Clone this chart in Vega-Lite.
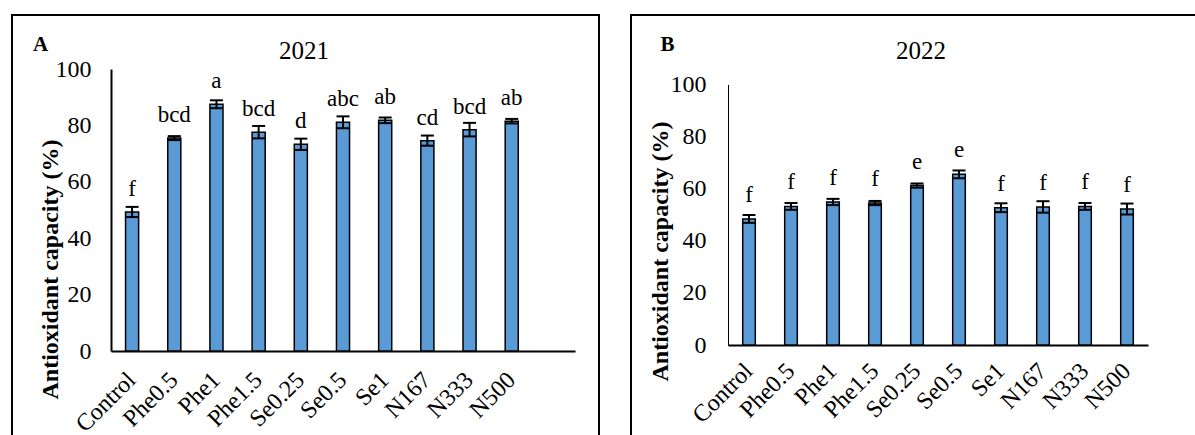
{
  "$schema": "https://vega.github.io/schema/vega-lite/v6.json",
  "padding": {"left": 11, "top": 14, "right": 0, "bottom": 0},
  "spacing": 30,
  "background": "white",
  "config": {
    "view": {"stroke": "#000", "strokeWidth": 2},
    "font": "Liberation Serif",
    "axis": {"labelFont": "Liberation Serif", "titleFont": "Liberation Serif", "labelColor": "#000", "titleColor": "#000", "domainColor": "#000", "grid": false, "ticks": false, "tickSize": 0}
  },
  "datasets": {
    "y2021": [
      {"treatment": "Control", "value": 49.3, "lo": 47.5, "hi": 51.1, "letter": "f"},
      {"treatment": "Phe0.5", "value": 75.5, "lo": 74.8, "hi": 76.2, "letter": "bcd"},
      {"treatment": "Phe1", "value": 87.5, "lo": 86.1, "hi": 88.9, "letter": "a"},
      {"treatment": "Phe1.5", "value": 77.6, "lo": 75.4, "hi": 79.8, "letter": "bcd"},
      {"treatment": "Se0.25", "value": 73.3, "lo": 71.3, "hi": 75.3, "letter": "d"},
      {"treatment": "Se0.5", "value": 81.1, "lo": 79.0, "hi": 83.2, "letter": "abc"},
      {"treatment": "Se1", "value": 81.8, "lo": 80.8, "hi": 82.8, "letter": "ab"},
      {"treatment": "N167", "value": 74.6, "lo": 72.8, "hi": 76.4, "letter": "cd"},
      {"treatment": "N333", "value": 78.5, "lo": 76.1, "hi": 80.9, "letter": "bcd"},
      {"treatment": "N500", "value": 81.5, "lo": 80.7, "hi": 82.3, "letter": "ab"}
    ],
    "y2022": [
      {"treatment": "Control", "value": 48.4, "lo": 46.9, "hi": 49.9, "letter": "f"},
      {"treatment": "Phe0.5", "value": 53.2, "lo": 51.9, "hi": 54.5, "letter": "f"},
      {"treatment": "Phe1", "value": 54.9, "lo": 53.7, "hi": 56.1, "letter": "f"},
      {"treatment": "Phe1.5", "value": 54.5, "lo": 53.7, "hi": 55.3, "letter": "f"},
      {"treatment": "Se0.25", "value": 61.2, "lo": 60.4, "hi": 62.0, "letter": "e"},
      {"treatment": "Se0.5", "value": 65.5, "lo": 64.0, "hi": 67.0, "letter": "e"},
      {"treatment": "Se1", "value": 52.7, "lo": 51.0, "hi": 54.4, "letter": "f"},
      {"treatment": "N167", "value": 53.0, "lo": 50.8, "hi": 55.2, "letter": "f"},
      {"treatment": "N333", "value": 53.2, "lo": 51.9, "hi": 54.5, "letter": "f"},
      {"treatment": "N500", "value": 52.2, "lo": 50.1, "hi": 54.3, "letter": "f"}
    ]
  },
  "hconcat": [
    {
      "width": 587,
      "height": 430,
      "data": {"name": "y2021"},
      "title": {"text": "2021", "offset": -69, "baseline": "alphabetic", "fontSize": 25, "fontWeight": "normal", "font": "Liberation Serif", "frame": "group", "anchor": "middle", "dx": -1.5, "color": "#000"},
      "encoding": {
        "x": {
          "field": "treatment", "type": "nominal",
          "scale": {"domain": ["Control", "Phe0.5", "Phe1", "Phe1.5", "Se0.25", "Se0.5", "Se1", "N167", "N333", "N500", " "], "range": [99, 563], "paddingInner": 0.69, "paddingOuter": 0.345},
          "axis": {"title": "A", "titleX": 28, "titleY": -306.5, "titleFontSize": 21, "titleFontWeight": "bold", "titleBaseline": "middle", "titleAlign": "center", "titleAngle": 0, "offset": -94, "labelAngle": -45, "labelAlign": "right", "labelBaseline": "middle", "labelPadding": 25, "labelFontSize": 24, "domainWidth": 2, "labelOverlap": false}
        }
      },
      "layer": [
        {
          "mark": {"type": "bar", "fill": "#5B9BD5", "stroke": "#000", "strokeWidth": 1.5},
          "encoding": {
            "y": {"field": "value", "type": "quantitative", "title": "Antioxidant capacity (%)",
              "scale": {"domain": [0, 100], "range": [336, 54], "nice": false},
              "axis": {"titleX": -61, "titleY": 254, "titleAngle": -90, "titleAlign": "center", "titleBaseline": "middle", "titleFontSize": 24, "titleFontWeight": "bold", "offset": -99, "values": [0, 20, 40, 60, 80, 100], "labelPadding": 20, "labelFontSize": 24, "domainWidth": 2}}
          }
        },
        {
          "mark": {"type": "rule", "strokeWidth": 2, "color": "#000"},
          "encoding": {"y": {"field": "lo", "type": "quantitative", "title": "Antioxidant capacity (%)"}, "y2": {"field": "hi"}}
        },
        {
          "mark": {"type": "tick", "thickness": 2, "size": 13, "color": "#000", "opacity": 1},
          "encoding": {"y": {"field": "lo", "type": "quantitative", "title": "Antioxidant capacity (%)"}}
        },
        {
          "mark": {"type": "tick", "thickness": 2, "size": 13, "color": "#000", "opacity": 1},
          "encoding": {"y": {"field": "hi", "type": "quantitative", "title": "Antioxidant capacity (%)"}}
        },
        {
          "mark": {"type": "text", "baseline": "alphabetic", "dy": -16, "fontSize": 23, "font": "Liberation Serif", "color": "#000"},
          "encoding": {"y": {"field": "value", "type": "quantitative", "title": "Antioxidant capacity (%)"}, "text": {"field": "letter"}}
        }
      ]
    },
    {
      "width": 575,
      "height": 430,
      "data": {"name": "y2022"},
      "title": {"text": "2022", "offset": -69, "baseline": "alphabetic", "fontSize": 25, "fontWeight": "normal", "font": "Liberation Serif", "frame": "group", "anchor": "middle", "dx": 2.5, "color": "#000"},
      "encoding": {
        "x": {
          "field": "treatment", "type": "nominal",
          "scale": {"domain": ["Control", "Phe0.5", "Phe1", "Phe1.5", "Se0.25", "Se0.5", "Se1", "N167", "N333", "N500"], "range": [97, 517], "paddingInner": 0.7, "paddingOuter": 0.35},
          "axis": {"title": "B", "titleX": 36, "titleY": -300.5, "titleFontSize": 21, "titleFontWeight": "bold", "titleBaseline": "middle", "titleAlign": "center", "titleAngle": 0, "offset": -100, "labelAngle": -45, "labelAlign": "right", "labelBaseline": "middle", "labelPadding": 22, "labelFontSize": 24, "domainWidth": 2, "labelOverlap": false}
        }
      },
      "layer": [
        {
          "mark": {"type": "bar", "fill": "#5B9BD5", "stroke": "#000", "strokeWidth": 1.5},
          "encoding": {
            "y": {"field": "value", "type": "quantitative", "title": "Antioxidant capacity (%)",
              "scale": {"domain": [0, 100], "range": [330, 69.5], "nice": false},
              "axis": {"titleX": -68, "titleY": 236, "titleAngle": -90, "titleAlign": "center", "titleBaseline": "middle", "titleFontSize": 24, "titleFontWeight": "bold", "offset": -97, "values": [0, 20, 40, 60, 80, 100], "labelPadding": 22, "labelFontSize": 24, "domainWidth": 1}}
          }
        },
        {
          "mark": {"type": "rule", "strokeWidth": 2, "color": "#000"},
          "encoding": {"y": {"field": "lo", "type": "quantitative", "title": "Antioxidant capacity (%)"}, "y2": {"field": "hi"}}
        },
        {
          "mark": {"type": "tick", "thickness": 2, "size": 13, "color": "#000", "opacity": 1},
          "encoding": {"y": {"field": "lo", "type": "quantitative", "title": "Antioxidant capacity (%)"}}
        },
        {
          "mark": {"type": "tick", "thickness": 2, "size": 13, "color": "#000", "opacity": 1},
          "encoding": {"y": {"field": "hi", "type": "quantitative", "title": "Antioxidant capacity (%)"}}
        },
        {
          "mark": {"type": "text", "baseline": "alphabetic", "dy": -17, "fontSize": 23, "font": "Liberation Serif", "color": "#000"},
          "encoding": {"y": {"field": "value", "type": "quantitative", "title": "Antioxidant capacity (%)"}, "text": {"field": "letter"}}
        }
      ]
    }
  ]
}
